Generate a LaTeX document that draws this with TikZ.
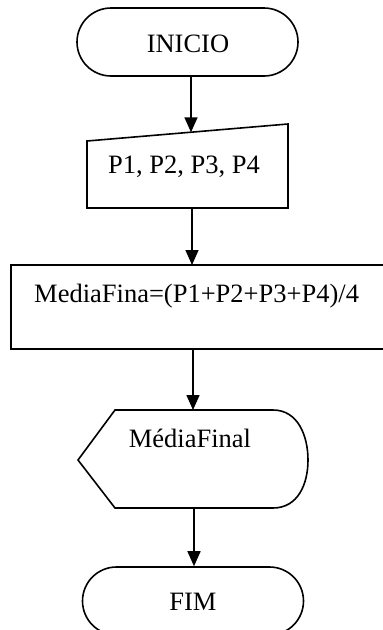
\documentclass[tikz,border=0pt]{standalone}
\usepackage{fontspec}
\setmainfont{Liberation Serif}
\usetikzlibrary{arrows.meta,shapes.misc}

\begin{document}
\begin{tikzpicture}[x=1pt,y=-1pt,
  shape line/.style={draw=black,line width=1.6pt,line join=miter},
  term/.style={shape line,rounded rectangle,minimum width=221pt,minimum height=68pt,inner sep=0pt},
  lbl/.style={font=\fontsize{26.5}{30}\selectfont,inner sep=0pt,anchor=base},
  flow/.style={line width=1.6pt,-{Triangle[width=13pt,length=15pt]}}]
  \useasboundingbox (0,0) rectangle (383,630);
  \clip (0,0) rectangle (383,630);
  \fill[white] (0,0) rectangle (383,630);

  % start terminal
  \node[term] (start) at (187.5,42) {};
  \node[lbl] (startText) at (188,52) {INICIO};

  % manual input of the four grades
  \coordinate (inTL) at (87,141);
  \coordinate (inTR) at (288,124);
  \coordinate (inBR) at (288,208);
  \coordinate (inBL) at (87,208);
  \draw[shape line] (inTL) -- (inTR) -- (inBR) -- (inBL) -- cycle;
  \coordinate (inTop) at (191,132.3);
  \coordinate (inBottom) at (192,208);
  \node[lbl] (inText) at (184,173) {P1, P2, P3, P4};

  % process box (runs past the right edge)
  \draw[shape line] (11,265) rectangle (392,349);
  \coordinate (procTop) at (192,265);
  \coordinate (procBottom) at (193,349);
  \node[lbl,anchor=base west] (procText) at (34,302) {MediaFina=(P1+P2+P3+P4)/4};

  % display symbol
  \coordinate (dispTop) at (193,410);
  \coordinate (dispBottom) at (194,508);
  \draw[shape line] (78,460) -- (115,410) -- (273,410)
    .. controls (298,410) and (308,436) .. (308,460)
    .. controls (308,484) and (298,508) .. (273,508)
    -- (115,508) -- cycle;
  \node[lbl] (dispText) at (190,447) {MédiaFinal};

  % end terminal
  \node[term] (stop) at (193,601) {};
  \node[lbl] (stopText) at (193,610) {FIM};

  % connectors
  \draw[flow] (start.south -| inTop) -- (inTop);
  \draw[flow] (inBottom) -- (procTop);
  \draw[flow] (procBottom) -- (dispTop);
  \draw[flow] (dispBottom) -- (stop.north -| dispBottom);
\end{tikzpicture}
\end{document}
